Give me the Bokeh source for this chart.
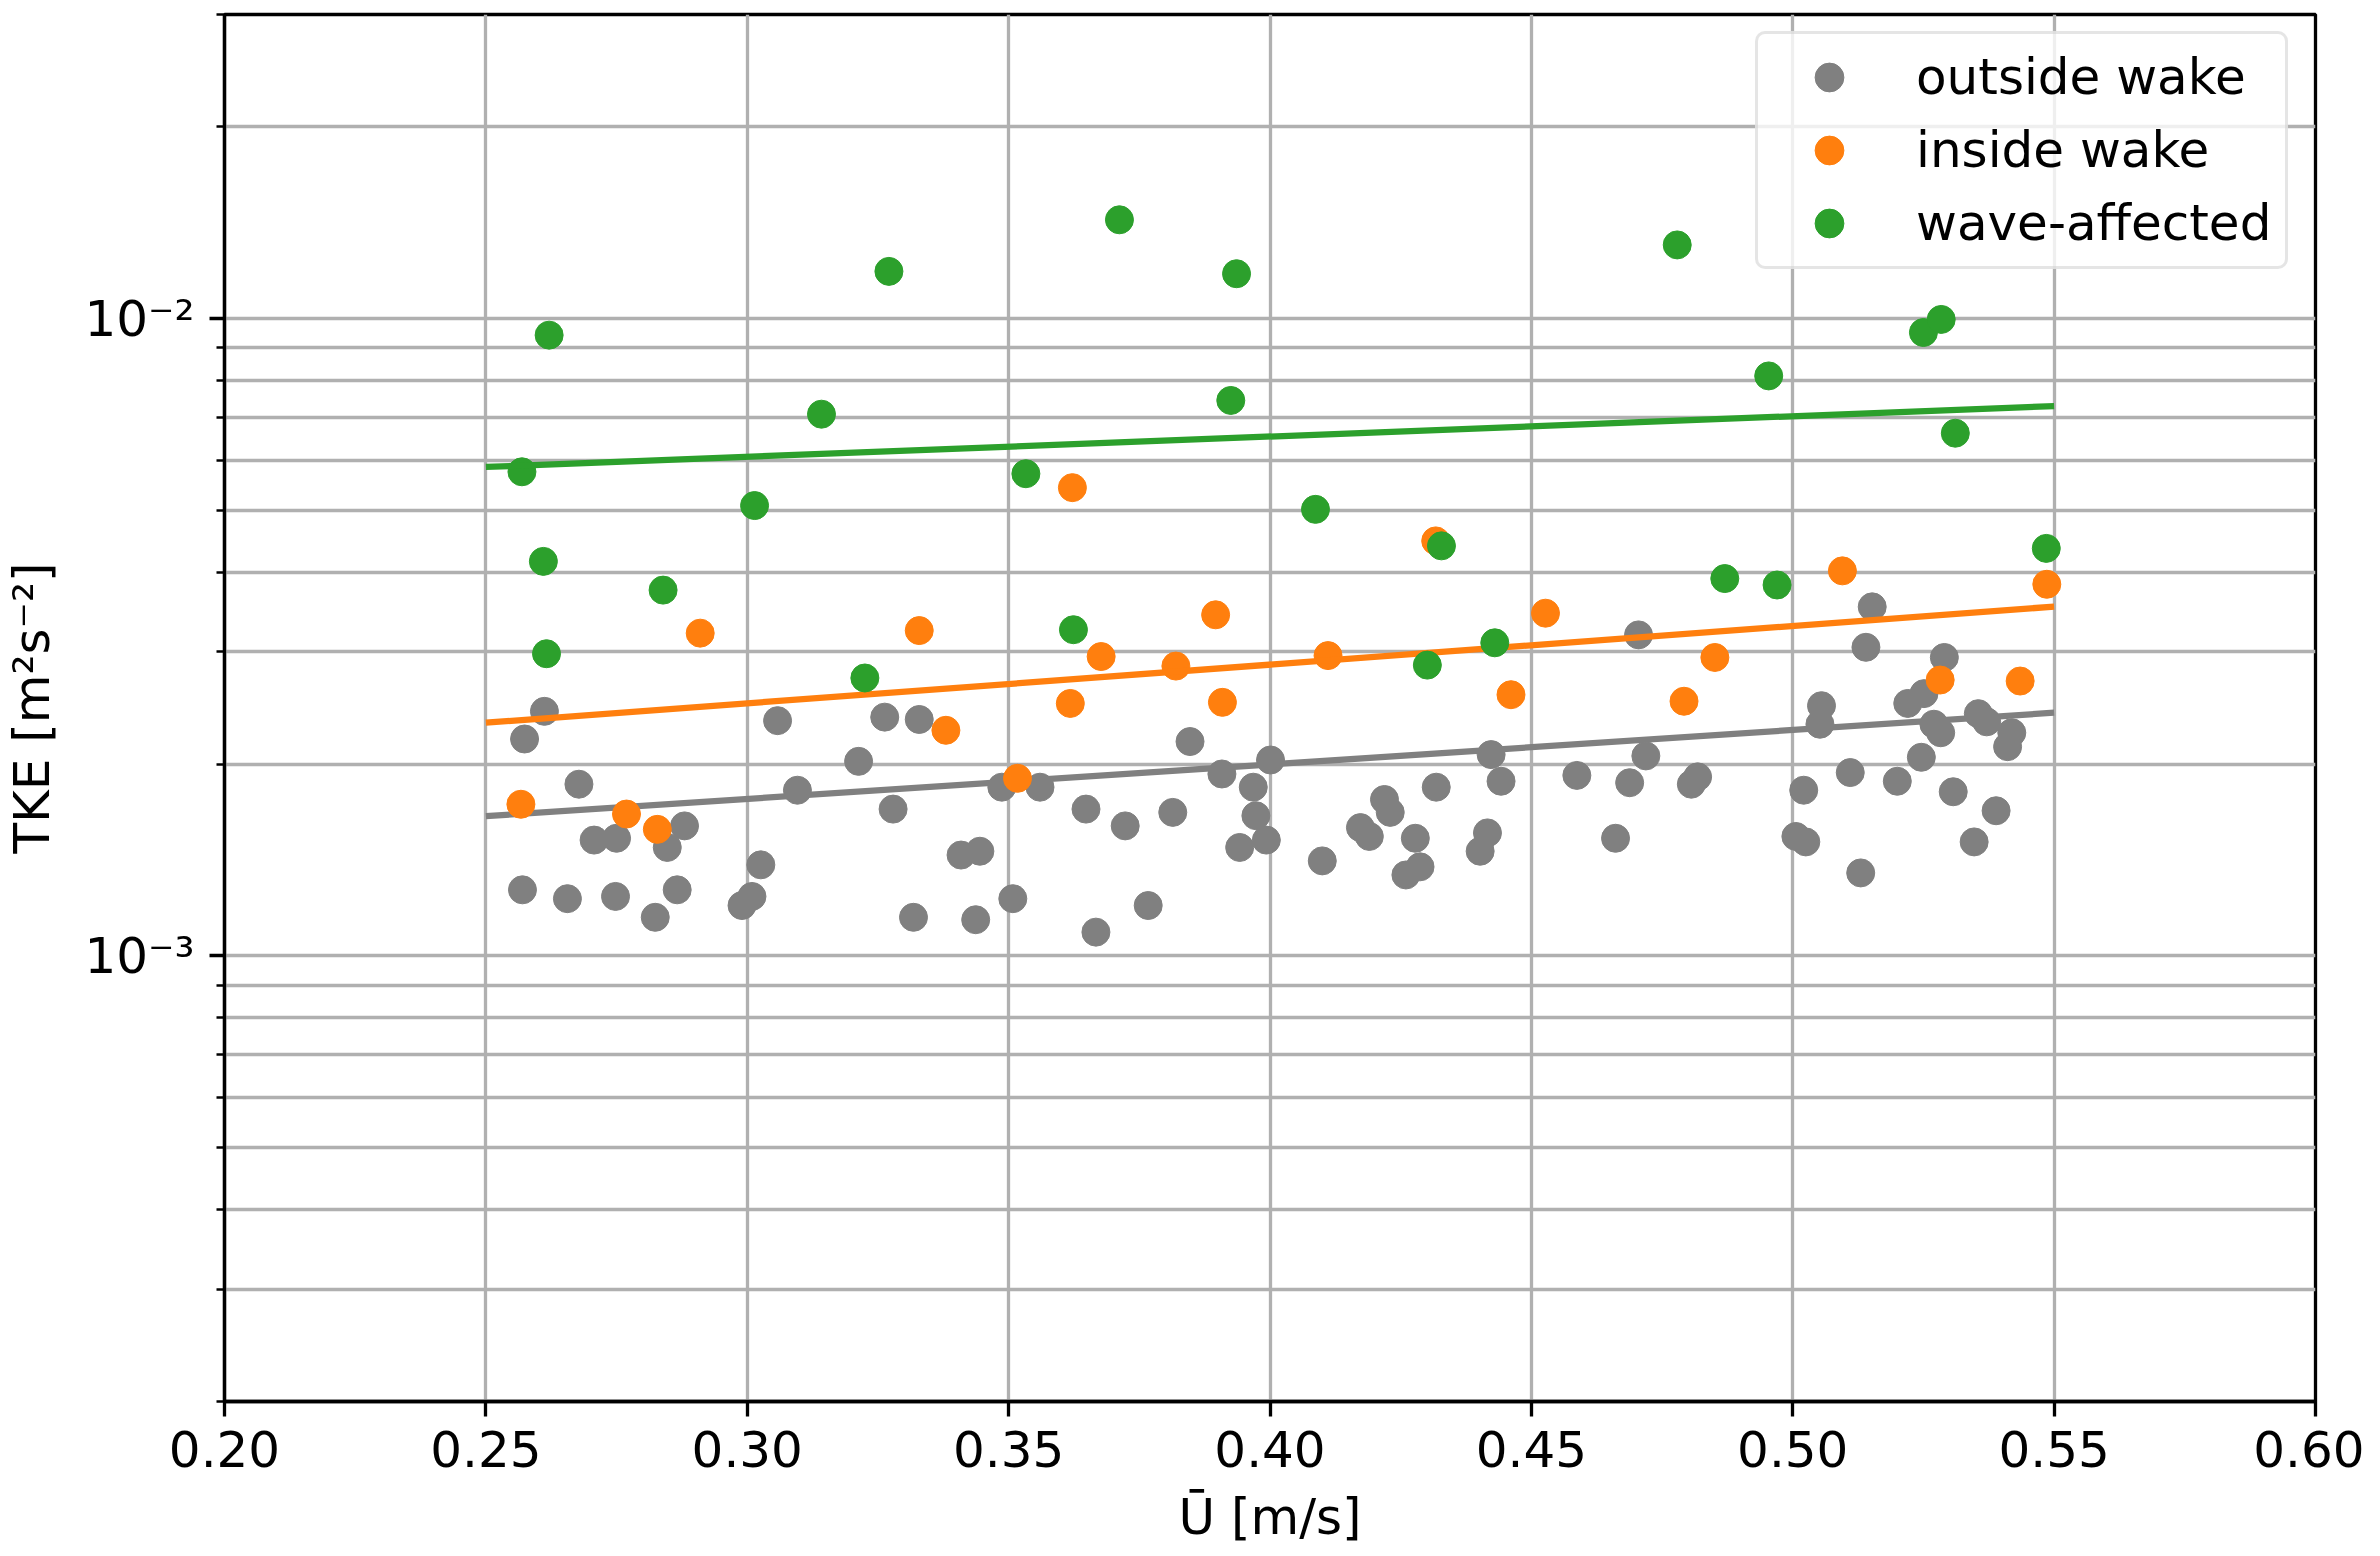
from bokeh.plotting import figure
from bokeh.models import FixedTicker, CustomJSTickFormatter
from bokeh.embed import file_html
from bokeh.resources import INLINE

# --- data --------------------------------------------------------------
outside_x = [0.2612, 0.2574, 0.3058, 0.3263, 0.3329, 0.3213, 0.3096, 0.3279, 0.2678, 0.2880,
             0.2707, 0.2750, 0.2847, 0.3026, 0.2570, 0.2656, 0.2748, 0.2866, 0.2824, 0.3009,
             0.2990, 0.3318,
             0.3847, 0.4001, 0.3487, 0.3560, 0.3908, 0.3968, 0.3973, 0.3993, 0.3942, 0.3648,
             0.3723, 0.3814, 0.3409, 0.3445, 0.3437, 0.3508, 0.3667, 0.3767,
             0.4705, 0.4423, 0.4719, 0.4442, 0.4587, 0.4688, 0.4818, 0.4806, 0.4318, 0.4219,
             0.4230, 0.4173, 0.4190, 0.4278, 0.4416, 0.4402, 0.4100, 0.4287, 0.4260, 0.4661,
             0.5152, 0.5140, 0.5290, 0.5055, 0.5052, 0.5220, 0.5251, 0.5270, 0.5283, 0.5355,
             0.5371, 0.5419, 0.5411, 0.5246, 0.5021, 0.5110, 0.5200, 0.5307, 0.5389, 0.5006,
             0.5025, 0.5347, 0.5130]
outside_tke = [0.00242, 0.00219, 0.00234, 0.00237, 0.00235, 0.00202, 0.00182, 0.00170, 0.00186, 0.00160,
               0.00152, 0.00153, 0.00148, 0.00139, 0.00127, 0.00123, 0.00124, 0.00127, 0.00115, 0.00124,
               0.00120, 0.00115,
               0.00217, 0.00203, 0.00184, 0.00184, 0.00193, 0.00184, 0.00166, 0.00152, 0.00148, 0.00170,
               0.00160, 0.00168, 0.00144, 0.00146, 0.00114, 0.00123, 0.00109, 0.00120,
               0.00319, 0.00207, 0.00206, 0.00188, 0.00192, 0.00187, 0.00191, 0.00186, 0.00184, 0.00176,
               0.00168, 0.00159, 0.00154, 0.00153, 0.00156, 0.00146, 0.00141, 0.00138, 0.00134, 0.00153,
               0.00353, 0.00305, 0.00294, 0.00247, 0.00231, 0.00249, 0.00258, 0.00231, 0.00224, 0.00240,
               0.00233, 0.00224, 0.00213, 0.00205, 0.00182, 0.00194, 0.00188, 0.00181, 0.00169, 0.00154,
               0.00151, 0.00151, 0.00135]

inside_x = [0.2910, 0.3329, 0.2567, 0.2769, 0.2828, 0.3622, 0.3896, 0.3677, 0.3820, 0.4111,
            0.3618, 0.3909, 0.3380, 0.3517, 0.4317, 0.4527, 0.4851, 0.4461, 0.4792, 0.5095,
            0.5486, 0.5282, 0.5435]
inside_tke = [0.00321, 0.00324, 0.00173, 0.00167, 0.00158, 0.00543, 0.00343, 0.00295, 0.00285, 0.00296,
              0.00249, 0.00250, 0.00226, 0.00190, 0.00448, 0.00345, 0.00294, 0.00257, 0.00251, 0.00402,
              0.00383, 0.00271, 0.00270]

wave_x = [0.2621, 0.3271, 0.3142, 0.2569, 0.3014, 0.2610, 0.2839, 0.2616, 0.3225, 0.3712,
          0.3936, 0.3925, 0.3533, 0.4087, 0.3624, 0.4779, 0.4328, 0.4870, 0.4301, 0.4430,
          0.4954, 0.5250, 0.5284, 0.5311, 0.5485, 0.4970]
wave_tke = [0.00942, 0.01186, 0.00708, 0.00575, 0.00509, 0.00416, 0.00375, 0.00298, 0.00273, 0.01429,
            0.01176, 0.00744, 0.00571, 0.00502, 0.00325, 0.01305, 0.00440, 0.00391, 0.00286, 0.00310,
            0.00813, 0.00951, 0.00997, 0.00661, 0.00436, 0.00382]

# fitted trend lines (end points)
fit_x = [0.25, 0.55]
outside_fit = [0.001657, 0.002408]
inside_fit = [0.002323, 0.003533]
wave_fit = [0.005851, 0.007291]

x_ticks = [0.20, 0.25, 0.30, 0.35, 0.40, 0.45, 0.50, 0.55, 0.60]
x_tick_labels = ["0.20", "0.25", "0.30", "0.35", "0.40", "0.45", "0.50", "0.55", "0.60"]
y_ticks = [0.001, 0.01]
y_tick_labels = ["10\u207b\u00b3", "10\u207b\u00b2"]
y_minor = [m * 10.0 ** e for e in (-4, -3, -2) for m in range(2, 10)]

GRAY = "#808080"
ORANGE = "#ff7f0e"
GREEN = "#2ca02c"
FONT = "DejaVu Sans"

LOOKUP = ("const i = tick_values.findIndex(t => Math.abs(t - tick) < 1e-12 * Math.max(1, Math.abs(t)) + 1e-12);"
          " return i >= 0 ? tick_labels[i] : '';")

p = figure(width=2364, height=1548, y_axis_type="log",
           x_range=(0.2, 0.6), y_range=(2e-4, 3e-2),
           output_backend="svg", toolbar_location=None,
           min_border_left=216, min_border_right=49,
           min_border_top=14, min_border_bottom=144)

p.outline_line_color = "black"
p.outline_line_width = 3.3

# grid (major + minor on y, like which='both')
p.xgrid.grid_line_color = "#b0b0b0"
p.xgrid.grid_line_width = 3.3
p.ygrid.grid_line_color = "#b0b0b0"
p.ygrid.grid_line_width = 3.3
p.ygrid.minor_grid_line_color = "#b0b0b0"
p.ygrid.minor_grid_line_width = 3.3

# axes
p.xaxis.ticker = FixedTicker(ticks=x_ticks)
p.xaxis.formatter = CustomJSTickFormatter(
    args=dict(tick_values=x_ticks, tick_labels=x_tick_labels), code=LOOKUP)
p.yaxis.ticker = FixedTicker(ticks=y_ticks, minor_ticks=y_minor)
p.yaxis.formatter = CustomJSTickFormatter(
    args=dict(tick_values=y_ticks, tick_labels=y_tick_labels), code=LOOKUP)

for ax in (p.xaxis[0], p.yaxis[0]):
    ax.axis_line_width = 3.3
    ax.axis_line_color = "black"
    ax.major_tick_out = 15
    ax.major_tick_in = 0
    ax.major_tick_line_width = 3.3
    ax.major_label_text_font = FONT
    ax.major_label_text_font_size = "50px"
    ax.major_label_text_color = "black"
    ax.axis_label_text_font = FONT
    ax.axis_label_text_font_size = "50px"
    ax.axis_label_text_font_style = "normal"
    ax.axis_label_text_color = "black"

p.xaxis.minor_tick_line_color = None
p.xaxis.major_label_standoff = 14
p.xaxis.axis_label = "\u016a [m/s]"
p.xaxis.axis_label_standoff = 18

p.yaxis.minor_tick_out = 8
p.yaxis.minor_tick_in = 0
p.yaxis.minor_tick_line_width = 2.5
p.yaxis.major_label_standoff = 15
p.yaxis.axis_label = "TKE [m\u00b2s\u207b\u00b2]"
p.yaxis.axis_label_standoff = 20

# data
p.scatter(outside_x, outside_tke, size=28, color=GRAY, legend_label="outside wake")
p.line(fit_x, outside_fit, line_width=6.25, color=GRAY)
p.scatter(inside_x, inside_tke, size=28, color=ORANGE, legend_label="inside wake")
p.line(fit_x, inside_fit, line_width=6.25, color=ORANGE)
p.scatter(wave_x, wave_tke, size=28, color=GREEN, legend_label="wave-affected")
p.line(fit_x, wave_fit, line_width=6.25, color=GREEN)

# legend in the upper right corner of the frame
leg = p.legend[0]
leg.location = (1531, 1132)
leg.margin = 0
leg.padding = 7
leg.spacing = 1
leg.glyph_width = 128
leg.glyph_height = 72
leg.label_height = 72
leg.label_width = 362
leg.label_standoff = 23
leg.label_text_font = FONT
leg.label_text_font_size = "50px"
leg.label_text_color = "black"
leg.border_line_color = "#cccccc"
leg.border_line_width = 3
leg.background_fill_alpha = 0.8
if "border_radius" in leg.properties():
    leg.border_radius = 10

open("out.html", "w", encoding="utf-8").write(file_html(p, INLINE))
